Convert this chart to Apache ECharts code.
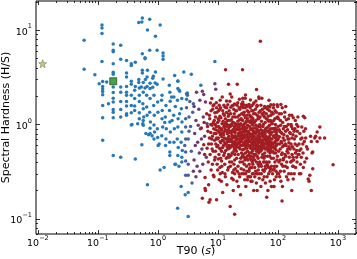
<!DOCTYPE html>
<html><head><meta charset="utf-8">
<script src="https://cdn.jsdelivr.net/npm/echarts@6/dist/echarts.min.js"></script>
<style>html,body{margin:0;padding:0;background:#fff}#c{width:357px;height:259px}</style>
</head><body><div id="c"></div>
<script>
// Axis ranges (log10 scales)
const xRange = [0.0093, 2000];
const yRange = [0.0692, 20.3];

// Special markers
const starPoint = [[0.012, 4.4]];
const squarePoint = [[0.18, 2.87]];

// Short (blue) bursts [T90, hardness]
const shortBursts = [
[0.059,7.8],[0.059,3.85],[0.089,3.37],[0.117,11.3],[0.117,10.5],[0.117,9.2],[0.117,4.65],[0.18,7.1],[0.18,6.1],[0.18,5.9],
[0.24,6.9],[0.55,13.4],[0.73,13],[0.54,12.2],[0.48,12],[1.09,11.3],[0.67,10],[0.91,8.6],[0.73,6.1],[0.97,6.1],
[0.55,5.6],[1.22,5.7],[1.22,5.3],[1.22,4.9],[0.61,5.1],[0.61,4.96],[0.24,4.9],[0.30,4.76],[0.36,4.4],[0.36,4.2],
[0.42,4.57],[0.18,4.4],[0.55,3.75],[0.55,3.5],[0.67,3.75],[0.91,3.6],[2.7,3.6],[0.18,3.57],[0.18,3.4],[0.30,3.5],
[0.30,3.18],[1.9,3.3],[0.66,3.18],[0.84,3.24],[0.82,3.08],[0.62,2.99],[0.48,3.0],[1.22,3.03],[2.15,2.89],[0.105,2.7],
[0.12,2.85],[0.14,2.82],[0.36,2.87],[0.36,2.66],[0.48,2.78],[0.57,2.78],[0.74,2.73],[0.9,2.75],[0.97,2.66],[1.55,2.6],
[0.30,2.52],[0.42,2.52],[0.53,2.5],[0.61,2.43],[0.66,2.52],[0.82,2.48],[0.18,2.5],[0.12,2.37],[3.6,3.4],[2.15,2.87],
[5.2,2.6],[8.9,4.65],[2.27,2.3],[3.1,2.15],[1.69,1.95],[2.3,2.25],[3.0,2.12],[3.0,1.85],
[0.12,2.53],[0.12,2.24],[0.12,2.07],[0.18,2.18],[0.18,1.9],[0.18,1.73],[0.15,1.66],[0.12,1.59],[0.18,1.44],[0.18,1.35],
[0.24,2.5],[0.24,2.2],[0.24,1.75],[0.24,1.44],[0.24,1.2],[0.12,1.18],[0.18,1.18],[0.30,2.2],[0.30,2.04],[0.30,1.75],
[0.30,1.57],[0.30,1.3],[0.30,1.25],[0.36,2.04],[0.36,1.59],[0.36,1.33],[0.36,0.99],[0.41,2.3],[0.41,1.88],[0.41,1.57],
[0.41,1.41],[0.49,2.43],[0.49,2.04],[0.49,1.75],[0.49,1.33],[0.49,1.15],[0.57,2.2],[0.56,1.66],[0.57,1.47],[0.58,1.2],
[0.57,1.1],[0.56,1.02],[0.65,2.04],[0.65,1.53],[0.66,1.25],[0.74,2.4],[0.74,1.88],[0.73,1.35],[0.75,1.06],[0.74,0.91],
[0.74,0.8],[0.86,2.04],[0.85,1.59],[0.87,1.25],[0.86,0.99],[0.88,0.83],[0.86,0.7],[0.99,1.73],[1.0,1.35],[0.98,0.9],
[0.99,0.73],[1.01,0.6],[1.17,2.04],[1.15,1.8],[1.18,1.41],[1.17,1.15],[1.2,0.94],[1.16,0.76],[1.36,1.59],[1.33,1.2],
[1.38,0.9],[1.36,0.7],[1.34,0.6],[1.58,2.2],[1.6,1.76],[1.56,1.41],[1.58,1.06],[1.61,0.83],[1.57,0.65],[1.58,0.51],
[1.85,1.95],[1.83,1.25],[1.88,0.9],[1.85,0.65],[2.15,2.4],[2.12,1.8],[2.17,1.15],[2.15,0.94],[2.1,0.7],[2.18,0.57],
[2.15,0.47],[2.5,1.88],[2.46,1.47],[2.52,1.06],[2.5,0.83],[2.44,0.65],[2.55,0.53],[2.5,0.45],
[0.37,1.0],[0.46,1.02],[0.57,0.98],[0.63,0.8],[0.7,0.78],[0.8,0.76],[1.05,0.62],[1.58,0.47],[1.92,0.38],
[0.12,0.68],[0.18,0.47],[0.24,0.45],[0.42,0.43],[0.54,0.61],[0.67,0.23],[1.09,0.33],[1.27,0.35],[1.97,0.38],[2.24,0.36],
[2.5,0.4],[2.44,0.22],[2.85,0.18],[3.2,0.19],[2.13,0.13],[3.2,0.106],[1.3,1.05],[1.72,1.1],[1.95,1.55],[2.3,1.3]
];

// Intermediate (bluish purple and reddish purple) bursts
const midBlueBursts = [
[3.0,1.5],[3.3,1.2],[3.5,0.95],[3.8,1.35],[3.2,0.7],[3.6,0.52],[2.9,0.29],[3.2,0.29],[3.2,0.38],[3.7,0.24],
[3.4,1.75],[2.9,0.94],[2.9,1.15],[2.9,0.7],[2.9,0.51],[2.9,0.41],[3.1,2.04],[3.9,1.66],[3.3,0.85],[2.8,0.6]
];
const midRedBursts = [
[4.4,2.2],[5.5,2.25],[5.8,2.08],[5.0,1.8],[6.2,1.73],[8.9,2.7],[9.2,2.36],[4.1,0.8],[4.3,1.1],[4.6,0.65],
[4.8,1.45],[5.1,0.9],[5.4,0.55],[5.7,1.2],[6.0,0.75],[6.4,0.45],[4.0,0.42],[4.5,0.36],[5.0,0.32],[5.6,0.38],
[4.2,0.6],[4.7,0.98],[5.3,0.7],[6.6,1.02],[4.0,1.55],[3.9,0.32],[4.3,0.28],[4.9,0.5]
];

// Long (red) bursts
const longBursts = [
[5.3,0.92],[5.8,0.61],[6.1,0.275],[6.1,0.21],[5.5,0.165],[6.2,0.2],[5.9,1.05],[6.0,0.48],
[6.5,1.3],[6.8,0.85],[7.1,0.15],[7.0,0.23],[7.4,0.16],[6.6,0.56],[7.2,0.72],[7.6,1.0],[7.9,1.88],[7.5,1.69],[6.9,0.4],[7.7,0.33],[7.3,1.15],[6.7,0.95],[7.8,0.62],
[8.2,1.45],[8.5,0.9],[8.8,0.68],[9.1,1.2],[9.5,0.16],[8.3,0.52],[9.7,0.38],[8.6,1.62],[9.3,0.8],[9.9,1.05],[8.1,0.75],[9.0,0.45],[9.6,0.58],[8.9,1.33],[9.4,0.95],[8.4,0.29],[9.8,0.7],[8.7,1.1],[9.2,0.62],[10.0,0.86],[8.0,0.98],[9.5,1.5],
[10.3,1.4],[10.6,0.92],[10.9,0.66],[11.2,1.18],[11.5,0.52],[11.8,1.95],[12.1,0.8],[12.4,0.6],[10.1,0.43],[10.8,0.35],[11.4,0.25],[12.0,0.19],[10.5,1.6],[11.0,0.78],[11.7,1.02],[12.3,1.3],[10.2,0.72],[10.7,0.56],[11.3,0.87],[11.9,0.68],[12.5,0.47],[10.4,1.1],[11.1,1.5],[11.6,0.74],[12.2,1.08],[10.9,0.3],[11.5,0.41],[12.6,0.95],[10.6,0.82],[12.0,0.57],
[12.8,1.25],[13.1,0.9],[13.4,3.8],[13.7,0.7],[13.9,1.77],[14.2,0.58],[14.5,1.1],[14.8,0.82],[15.1,0.48],[15.4,1.4],[15.7,0.66],[13.0,0.38],[13.5,0.53],[14.0,0.96],[14.6,0.33],[15.2,0.75],[15.0,2.66],[15.8,1.76],[13.2,1.52],[13.8,0.62],[14.3,0.8],[14.9,1.22],[15.5,0.56],[12.9,0.72],[13.6,1.05],[14.4,0.45],[15.0,0.88],[15.6,0.98],[13.3,0.28],[14.1,0.23],[14.7,0.68],[15.3,0.6],[12.7,0.84],[13.9,1.34],[14.6,1.62],[15.7,0.4],[13.0,0.64],[15.2,0.93],
[16.0,0.135],[16.3,1.3],[16.6,0.85],[16.9,0.6],[17.3,1.58],[17.6,0.72],[17.9,0.5],[18.2,1.05],[18.5,0.38],[18.8,0.92],[19.1,0.66],[19.4,1.2],[19.7,0.55],[16.1,0.95],[16.5,0.47],[16.8,1.12],[17.1,0.78],[17.5,0.31],[17.8,0.88],[18.1,0.63],[18.4,1.45],[18.7,0.74],[19.0,0.42],[19.3,0.82],[19.6,1.02],[16.2,0.7],[16.7,0.58],[17.2,0.98],[17.7,1.2],[18.0,0.26],[18.6,0.53],[19.2,0.96],[19.8,0.71],[16.4,0.82],[17.0,0.4],[17.4,0.65],[18.3,0.84],[18.9,1.65],[19.5,0.34],[19.9,0.6],[17.0,1.95],[18.0,0.2],
[19.0,0.112],[20.2,0.88],[20.5,1.4],[20.8,0.62],[21.0,2.66],[21.2,0.75],[21.5,1.08],[21.8,0.48],[22.1,0.93],[22.4,0.57],[22.7,1.25],[23.0,0.7],[23.3,0.4],[23.6,0.83],[23.9,1.02],[24.2,0.6],[24.5,0.78],[24.8,1.55],[20.3,0.52],[20.6,0.98],[20.9,0.69],[21.3,1.2],[21.6,0.36],[21.9,0.8],[22.2,0.65],[22.5,0.3],[22.8,0.88],[23.1,1.12],[23.4,0.55],[23.7,0.74],[24.0,0.44],[24.3,0.9],[24.6,0.66],[24.9,1.3],[20.4,0.72],[21.1,0.58],[21.7,0.92],[22.3,0.77],[22.9,0.62],[23.5,0.98],[24.1,0.7],[24.7,0.5],[20.7,0.25],[22.0,0.22],[23.8,0.18],[21.4,1.7],[23.2,1.45],[24.4,0.34],
[25.7,3.8],[26.0,1.9],[26.0,1.73],[28.5,1.9],[25.2,0.82],[25.5,0.6],[25.8,1.1],[26.1,0.7],[26.4,0.48],[26.7,0.95],[27.0,0.64],[27.3,1.25],[27.6,0.55],[27.9,0.78],[28.2,0.42],[28.5,0.88],[28.8,0.67],[29.1,1.05],[29.4,0.58],[29.7,0.74],[30.0,0.36],[30.3,0.92],[30.6,0.62],[30.9,1.4],[31.2,0.52],[31.5,0.8],[31.8,0.7],[25.3,0.72],[25.9,0.54],[26.5,0.86],[27.1,0.45],[27.7,1.02],[28.3,0.6],[28.9,0.5],[29.5,0.85],[30.1,0.68],[30.7,0.46],[31.3,0.98],[25.6,0.4],[26.8,0.3],[28.0,0.26],[29.2,0.22],[30.4,0.32],[31.6,0.28],[26.2,1.5],[27.4,1.35],[28.6,1.18],[29.8,1.6],[31.0,1.15],[25.4,0.98],[26.6,0.62],[27.8,0.73],[29.0,0.77],[30.2,0.56],[31.4,0.64],[27.5,0.83],[29.6,0.63],[30.8,0.75],[26.3,0.76],[28.1,0.94],
[33.0,1.63],[32.2,0.85],[32.6,0.6],[33.0,0.72],[33.4,0.5],[33.8,0.95],[34.2,0.66],[34.6,1.2],[35.0,0.56],[35.4,0.78],[35.8,0.42],[36.2,0.88],[36.6,0.62],[37.0,1.02],[37.4,0.52],[37.8,0.7],[38.2,0.38],[38.6,0.82],[39.0,0.6],[39.4,1.3],[39.8,0.48],[32.4,0.47],[32.8,1.08],[33.2,0.38],[33.6,0.8],[34.0,0.58],[34.4,0.44],[34.8,0.9],[35.2,0.68],[35.6,1.1],[36.0,0.5],[36.4,0.74],[36.8,0.35],[37.2,0.64],[37.6,0.9],[38.0,0.55],[38.4,1.15],[38.8,0.72],[39.2,0.45],[39.6,0.66],[33.5,0.28],[35.5,0.25],[37.5,0.3],[39.5,0.2],[34.5,1.5],[36.5,1.4],[38.5,0.98],[32.5,0.66],[34.3,0.76],[36.1,0.6],[37.9,0.78],[39.7,0.84],[35.0,0.35],[38.0,0.42],
[43,1.77],[44,2.34],[40.3,0.75],[40.8,0.55],[41.3,0.92],[41.8,0.64],[42.3,0.48],[42.8,1.1],[43.3,0.7],[43.8,0.4],[44.3,0.84],[44.8,0.6],[45.3,1.25],[45.8,0.52],[46.3,0.76],[46.8,0.44],[47.3,0.95],[47.8,0.66],[48.3,0.36],[48.8,0.8],[49.3,0.58],[49.8,1.0],[40.5,1.05],[41.0,0.42],[41.5,0.68],[42.0,0.82],[42.5,0.32],[43.0,0.6],[43.5,0.98],[44.0,0.52],[44.5,0.72],[45.0,0.46],[45.5,0.88],[46.0,0.62],[46.5,1.15],[47.0,0.54],[47.5,0.7],[48.0,0.5],[48.5,1.35],[49.0,0.64],[49.5,0.4],[41.2,0.28],[43.7,0.24],[46.2,0.3],[48.7,0.27],[42.2,1.45],[44.7,1.55],[47.2,1.2],[49.7,0.74],[40.1,0.62],[45.1,0.67],[47.6,0.85],[42.7,0.56],[46.9,0.38],[44.2,0.9],[48.2,0.58],[40,1.7],
[51,7.6],[48,1.95],[48.5,1.88],[50.5,0.7],[51.2,0.52],[51.9,0.88],[52.6,0.6],[53.3,1.08],[54.0,0.45],[54.7,0.76],[55.4,0.56],[56.1,0.95],[56.8,0.64],[57.5,0.4],[58.2,0.82],[58.9,0.58],[59.6,1.2],[60.3,0.5],[61.0,0.72],[61.7,0.36],[62.4,0.9],[50.8,0.95],[51.5,0.38],[52.2,0.66],[52.9,0.8],[53.6,0.54],[54.3,1.3],[55.0,0.68],[55.7,0.48],[56.4,0.74],[57.1,1.0],[57.8,0.6],[58.5,0.44],[59.2,0.7],[59.9,0.86],[60.6,0.62],[61.3,1.05],[62.0,0.55],[62.7,0.68],[53.0,0.3],[56.0,0.26],[59.0,0.32],[62.0,0.24],[52.0,1.6],[55.5,1.45],[58.5,1.35],[61.5,1.5],[54.5,0.62],[57.3,0.78],[60.1,0.46],[51.6,0.56],[60.8,0.8],
[65,0.17],[63.5,0.75],[64.3,0.55],[65.1,0.92],[65.9,0.62],[66.7,0.46],[67.5,1.12],[68.3,0.7],[69.1,0.52],[69.9,0.85],[70.7,0.6],[71.5,0.4],[72.3,0.98],[73.1,0.66],[73.9,0.5],[74.7,0.78],[75.5,0.56],[76.3,1.25],[77.1,0.64],[77.9,0.44],[78.7,0.82],[63.9,1.3],[64.7,0.4],[65.5,0.72],[66.3,0.85],[67.1,0.58],[67.9,0.36],[68.7,0.94],[69.5,0.65],[70.3,1.08],[71.1,0.54],[71.9,0.74],[72.7,0.46],[73.5,0.88],[74.3,0.62],[75.1,0.34],[75.9,0.7],[76.7,0.9],[77.5,0.52],[78.3,1.05],[66,0.28],[70,0.3],[74,0.25],[78,0.22],[68,1.55],[72,1.4],[73,1.53],[76,1.62],[67,0.68],[71.7,0.82],[75.8,0.6],
[85,1.62],[97,1.62],[80,0.7],[81,0.52],[82,0.9],[83,0.62],[84,0.44],[85,1.1],[86,0.74],[87,0.56],[88,0.84],[89,0.4],[90,0.66],[91,1.0],[92,0.5],[93,0.78],[94,0.6],[95,0.36],[96,0.88],[97,0.68],[98,0.46],[99,1.2],[80.5,1.02],[82.5,0.58],[84.5,0.76],[86.5,0.34],[88.5,0.64],[90.5,0.92],[92.5,0.54],[94.5,0.82],[96.5,0.42],[98.5,0.62],[81.5,0.3],[87.5,0.26],[93.5,0.28],[83.5,1.3],[89.5,1.4],[95.5,1.18],[91.5,0.72],[85.5,0.5],[97.5,0.76],
[112,1.63],[117,0.155],[101,0.7],[103,0.52],[105,0.88],[107,0.62],[109,0.42],[111,0.98],[113,0.66],[115,0.48],[117,0.8],[119,0.58],[121,0.36],[123,0.9],[125,0.6],[102,1.15],[106,0.74],[110,0.32],[114,1.3],[118,0.5],[122,0.72],[104,0.4],[108,0.84],[116,0.64],[120,1.05],[124,0.44],[112,0.25],[119,0.22],[103,0.3],[126,0.78],
[135,1.55],[128,0.68],[131,0.48],[134,0.85],[137,0.6],[140,0.4],[143,0.75],[146,0.55],[149,1.0],[152,0.64],[155,0.45],[158,0.82],[129,1.2],[133,0.36],[138,0.95],[142,0.52],[147,0.7],[151,0.3],[156,1.25],[130,0.6],[139,0.28],[145,0.88],[153,0.58],
[170,0.2],[170,1.25],[165,0.62],[172,0.48],[178,0.78],[185,0.55],[192,0.9],[180,1.18],[176,0.36],[183,0.42],[188,0.7],[196,0.5],[168,0.95],[163,0.4],[174,0.58],[195,1.1],[180,0.36],[170,0.41],[180,0.265],
[205,0.45],[205,0.53],[217,0.48],[208,0.4],[237,0.38],[230,0.53],[240,0.7],[210,0.85],[225,0.62],[215,1.2],[228,0.3],[245,0.45],
[250,0.94],[260,0.62],[265,0.35],[265,1.22],[280,1.18],[300,0.58],[290,0.72],[270,0.85],[320,0.265],[310,0.55],[300,0.44],
[330,0.25],[340,0.29],[350,0.75],[360,0.66],[360,0.2],[370,0.5],[380,0.51],[380,0.34],[410,0.72],[425,0.75],[450,0.83],[450,0.66],[500,0.94],[500,0.72],[600,0.72],[830,0.375]
];
// More long bursts filling the main cloud
const longBurstsMore = [
[7.2,1.25],[7.6,0.82],[8.0,0.55],[8.4,1.05],[8.8,0.42],[9.2,0.88],[9.6,1.35],[10.0,0.6],[10.4,0.48],[10.8,1.22],[11.2,0.64],[11.6,0.36],[12.0,1.4],[7.4,0.48],[7.9,0.7],[8.3,1.58],[8.7,0.8],[9.1,0.52],[9.5,0.72],[9.9,0.33],[10.3,0.95],[10.7,1.45],[11.1,0.44],[11.5,0.9],[11.9,0.8],[7.0,0.62],[8.1,0.38],[9.0,1.0],[10.1,1.15],[11.0,0.55],[12.2,0.68],[8.6,0.28],[10.5,0.26],[11.8,0.31],[9.4,1.7],[10.9,1.8],[7.7,1.4],
[12.4,0.78],[12.9,0.5],[13.3,1.15],[13.8,0.44],[14.2,1.0],[14.7,0.55],[15.2,1.28],[15.7,0.82],[16.2,0.36],[16.7,1.0],[17.2,0.5],[17.7,0.85],[18.2,0.6],[18.7,1.3],[19.2,0.48],[19.7,0.9],[12.6,1.6],[13.6,0.86],[14.5,0.66],[15.4,0.45],[16.4,1.52],[17.4,0.75],[18.4,0.33],[19.4,0.76],[13.1,0.3],[15.0,0.35],[17.0,0.27],[19.0,0.3],[14.0,1.5],[16.0,2.1],[18.0,1.6],[19.8,1.4],[12.8,1.0],[14.9,0.72],[16.9,0.68],[18.9,0.56],[13.5,0.62],[15.6,1.1],[17.6,1.05],[19.5,0.64],
[20.5,0.44],[21.5,0.88],[22.5,1.5],[23.5,0.66],[24.5,1.15],[25.5,0.46],[26.5,1.32],[27.5,0.38],[28.5,1.5],[29.5,0.44],[30.5,1.25],[31.5,0.42],[32.5,1.35],[33.5,0.34],[34.5,1.05],[35.5,0.46],[36.5,1.2],[37.5,0.4],[38.5,1.4],[39.5,0.56],[21,0.32],[23,0.28],[25,0.3],[27,0.33],[29,0.3],[31,0.26],[33,0.32],[35,0.28],[37,0.25],[39,0.3],[20.8,1.6],[22.8,1.85],[24.8,1.65],[26.8,1.62],[28.8,2.05],[30.8,1.55],[32.8,1.6],[34.8,1.82],[36.8,1.58],[38.8,1.65],[22,1.0],[26,0.9],[30,1.08],[34,1.25],[38,1.08],
[41,0.35],[44,0.3],[47,0.33],[50,0.3],[53,0.36],[56,0.33],[59,0.28],[62,0.34],[66,0.38],[70,0.35],[74,0.32],[78,0.36],[83,0.33],[88,0.36],[93,0.32],[98,0.3],[42,1.3],[45,1.6],[48,1.15],[51,1.4],[54,1.9],[57,1.25],[60,1.55],[64,1.15],[67,1.45],[71,1.8],[75,1.1],[79,1.35],[84,1.5],[89,1.15],[94,1.35],[99,1.55],[42.5,0.8],[46.5,0.56],[50.5,1.2],[55,0.86],[59.5,0.4],[64,0.66],[69,1.22],[74,0.55],[79,0.64],[84.5,0.9],[90,0.58],[95,0.7],[52,0.22],[68,0.2],[86,0.22],[45,0.2],
[101,0.95],[105,1.3],[109,0.55],[113,0.82],[118,1.5],[123,0.42],[128,0.95],[133,0.62],[138,1.12],[143,0.35],[148,0.5],[154,0.7],[160,0.55],[166,1.0],[172,0.72],[179,0.45],[186,0.85],[193,0.62],[200,0.75],[208,0.6],[216,0.95],[224,0.48],[232,0.8],[242,0.55],[252,0.72],[262,0.5],[275,0.66],[288,0.9],[107,0.28],[127,0.32],[147,0.26],[167,0.3],[187,0.3],[110,1.1],[130,1.35],[150,1.15],[175,0.9],[197,0.35],[240,0.3],[280,0.4],[115,0.38],[135,0.46],[160,0.8],[205,1.0]
];

const FONT = 'DejaVu Sans';
const supLabel = function (v) {
  const l = Math.log10(v), e = Math.round(l);
  if (Math.abs(l - e) > 1e-6) return '';
  return '{b|10}{s|' + (e < 0 ? '\u2212' + (-e) : e) + '}';
};
const labelRich = {
  b: {fontSize: 9.5, fontFamily: FONT, color: '#000', lineHeight: 14, verticalAlign: 'bottom'},
  s: {fontSize: 6.5, fontFamily: FONT, color: '#000', lineHeight: 8, verticalAlign: 'top'}
};

const chart = echarts.init(document.getElementById('c'), null, {renderer: 'canvas'});
const dot = (data, color, z) => ({
  type: 'scatter', data: data, symbol: 'circle', symbolSize: 3.5, z: z,
  itemStyle: {color: color, opacity: 1}, silent: true, animation: false
});
chart.setOption({
  animation: false,
  grid: {left: 36, right: 1, top: 1, bottom: 25, containLabel: false, outerBoundsMode: 'none',
    show: true, borderColor: '#000', borderWidth: 1, backgroundColor: 'transparent'},
  xAxis: {
    type: 'log', logBase: 10, min: xRange[0], max: xRange[1],
    axisLine: {show: false}, axisTick: {show: false}, splitLine: {show: false},
    axisLabel: {formatter: supLabel, rich: labelRich, margin: 1, showMinLabel: false, showMaxLabel: false},
    name: 'T90 ({i|s})', nameLocation: 'middle', nameGap: 12, nameMoveOverlap: false,
    nameTextStyle: {fontSize: 11, fontFamily: FONT, color: '#000', verticalAlign: 'top',
      rich: {i: {fontSize: 11, fontFamily: FONT, fontStyle: 'italic', color: '#000'}}}
  },
  yAxis: {
    type: 'log', logBase: 10, min: yRange[0], max: yRange[1],
    axisLine: {show: false}, axisTick: {show: false}, splitLine: {show: false},
    axisLabel: {formatter: supLabel, rich: labelRich, margin: 4, showMinLabel: false, showMaxLabel: false},
    name: 'Spectral Hardness (H/S)', nameLocation: 'middle', nameGap: 24, nameMoveOverlap: false,
    nameTextStyle: {fontSize: 11, fontFamily: FONT, color: '#000'}
  },
  series: [
    dot(shortBursts, '#2679b8', 2),
    dot(midBlueBursts, '#4a5f9e', 3),
    dot(midRedBursts, '#6e3a72', 3),
    dot(longBursts, '#a21e23', 4),
    dot(longBurstsMore, '#a21e23', 4),
    {type: 'scatter', data: squarePoint, symbol: 'rect', symbolSize: 7, z: 6,
      itemStyle: {color: '#1a8c1a', borderColor: '#0b3d0b', borderWidth: 0.8}},
    {type: 'scatter', data: starPoint, symbol: 'path://M50,0 L61,35 L98,35 L68,57 L79,91 L50,70 L21,91 L32,57 L2,35 L39,35 Z',
      symbolSize: 8, z: 6, itemStyle: {color: '#c9c43a', borderColor: '#555', borderWidth: 0.6}}
  ]
});

// inward major/minor ticks on all four sides, placed through the axis scales
const gL = 36, gR = 356, gT = 1, gB = 234;
const els = [];
function seg(x1, y1, x2, y2) {
  els.push({type: 'line', silent: true, z: 10, shape: {x1: x1, y1: y1, x2: x2, y2: y2}, style: {stroke: '#000', lineWidth: 0.8}});
}
for (let k = -3; k <= 3; k++) {
  for (let m = 1; m <= 9; m++) {
    const v = m * Math.pow(10, k);
    const len = m === 1 ? 4 : 2;
    if (v >= xRange[0] && v <= xRange[1]) {
      const px = Math.round(chart.convertToPixel({xAxisIndex: 0}, v)) + 0.5;
      seg(px, gB, px, gB - len); seg(px, gT, px, gT + len);
    }
    if (v >= yRange[0] && v <= yRange[1]) {
      const py = Math.round(chart.convertToPixel({yAxisIndex: 0}, v)) + 0.5;
      seg(gL, py, gL + len, py); seg(gR, py, gR - len, py);
    }
  }
}
chart.setOption({graphic: els});
</script>
</body></html>
